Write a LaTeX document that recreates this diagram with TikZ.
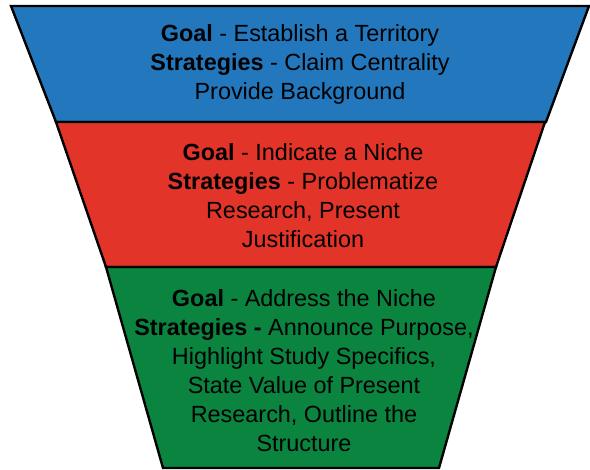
\documentclass[tikz,border=0pt]{standalone}
\usepackage{fontspec}
\setmainfont{Liberation Sans}
\definecolor{bandblue}{HTML}{2277BD}
\definecolor{bandred}{HTML}{E3342A}
\definecolor{bandgreen}{HTML}{0B843F}
\begin{document}
\begin{tikzpicture}[x=1pt,y=-1pt,
  band/.style={draw=black,line width=2.4pt,line join=miter},
  bandtext/.style={align=center,text=black,inner sep=0pt,
    font=\fontsize{23.4pt}{29pt}\selectfont}]
  \useasboundingbox (0,0) rectangle (590,470);
  % funnel bands, widest on top
  \filldraw[band,fill=bandblue]  (11,6) -- (589,6) -- (546,122) -- (56,122) -- cycle;
  \filldraw[band,fill=bandred]   (56,122) -- (545,122) -- (496,267) -- (106,267) -- cycle;
  \filldraw[band,fill=bandgreen] (106,267) -- (496,267) -- (439,468) -- (163,468) -- cycle;
  % labels
  \node[bandtext] (establish) at (300,64)
    {\textbf{Goal} - Establish a Territory\\
     \textbf{Strategies} - Claim Centrality\\
     Provide Background};
  \node[bandtext] (niche) at (303,196)
    {\textbf{Goal} - Indicate a Niche\\
     \textbf{Strategies} - Problematize\\
     Research, Present\\
     Justification};
  \node[bandtext] (address) at (304,371)
    {\textbf{Goal} - Address the Niche\\
     \textbf{Strategies -} Announce Purpose,\\
     Highlight Study Specifics,\\
     State Value of Present\\
     Research, Outline the\\
     Structure};
\end{tikzpicture}
\end{document}
